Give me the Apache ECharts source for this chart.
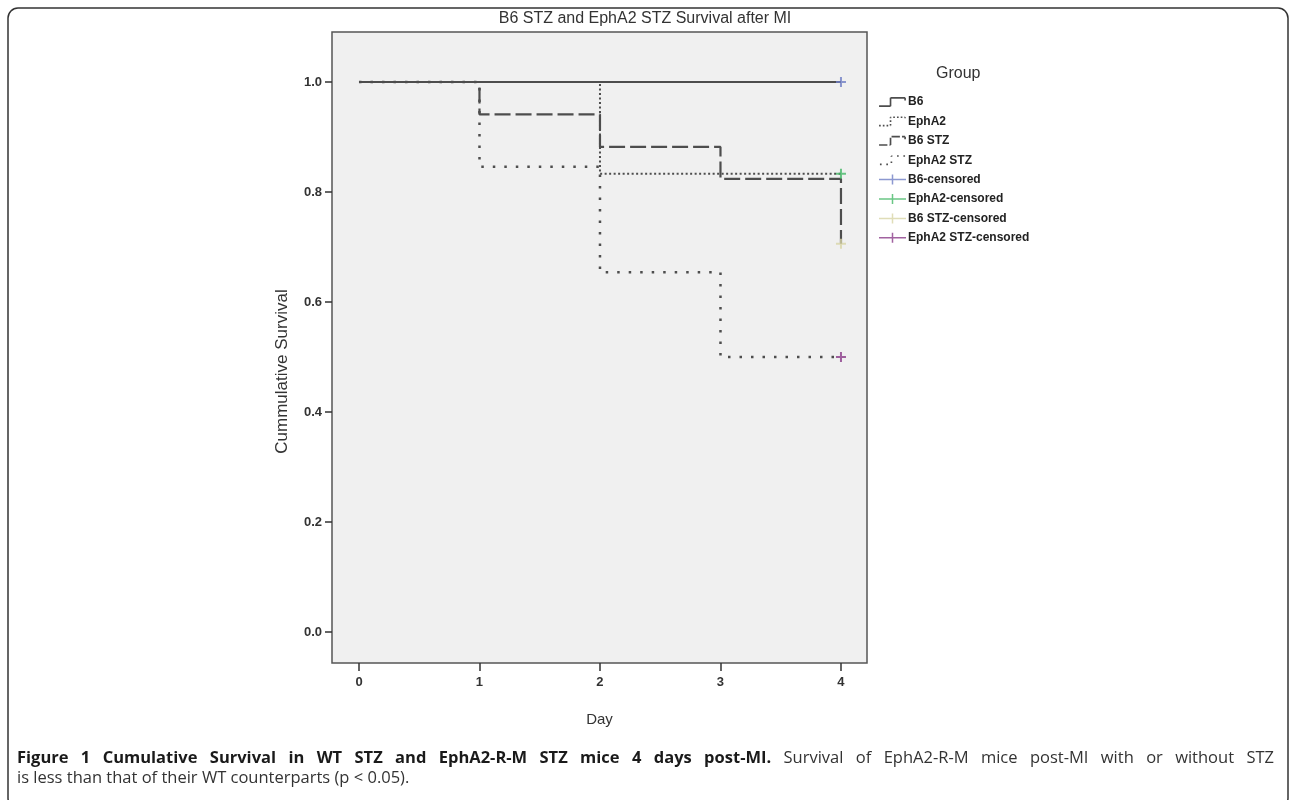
<!DOCTYPE html>
<html>
<head>
<meta charset="utf-8">
<script src="https://cdn.jsdelivr.net/npm/echarts@6/dist/echarts.min.js"></script>
<style>
html,body{margin:0;padding:0;background:#fff;}
#chart{width:1290px;height:800px;}
</style>
</head>
<body>
<div id="chart"></div>
<script>
// ---- data ----
const days = [0, 1, 2, 3, 4];
const b6 = [1, 1, 1, 1, 1];
const epha2 = [1, 1, 0.833, 0.833, 0.833];
const b6stz = [1, 0.941, 0.882, 0.824, 0.706];
const epha2stz = [1, 0.846, 0.654, 0.5, 0.5];
const censorDay = 4;
const xTicks = [0, 1, 2, 3, 4];
const yTicks = [0, 0.2, 0.4, 0.6, 0.8, 1.0];
const groupNames = ['B6', 'EphA2', 'B6 STZ', 'EphA2 STZ'];
const censorNames = ['B6-censored', 'EphA2-censored', 'B6 STZ-censored', 'EphA2 STZ-censored'];
const chartTitle = 'B6 STZ and EphA2 STZ Survival after MI';
const xName = 'Day';
const yName = 'Cummulative Survival';
const legendTitle = 'Group';
const captionBold = 'Figure 1 Cumulative Survival in WT STZ and EphA2-R-M STZ mice 4 days post-MI.';
const captionRest1 = 'Survival of EphA2-R-M mice post-MI with or without STZ';
const captionRest2 = 'is less than that of their WT counterparts (p < 0.05).';

// ---- helpers (styling only) ----
function pairs(vals) { return days.map((d, i) => [d, vals[i]]); }
function dashedPath(points, dash, gap, w) {
  let p = 'path://';
  let on = true, remain = dash;
  for (let s = 0; s < points.length - 1; s++) {
    const [x0, y0] = points[s], [x1, y1] = points[s + 1];
    const horiz = y0 === y1;
    const L = Math.abs(horiz ? x1 - x0 : y1 - y0);
    const dir = horiz ? Math.sign(x1 - x0) : Math.sign(y1 - y0);
    let t = 0;
    while (t < L - 1e-6) {
      const step = Math.min(remain, L - t);
      if (on) {
        const a = t, b = t + step;
        if (horiz) {
          const xa = Math.min(x0 + dir * a, x0 + dir * b);
          p += `M${xa},${y0 - w / 2}h${step}v${w}h${-step}z `;
        } else {
          const ya = Math.min(y0 + dir * a, y0 + dir * b);
          p += `M${x0 - w / 2},${ya}h${w}v${step}h${-w}z `;
        }
      }
      t += step;
      remain -= step;
      if (remain <= 1e-6) { on = !on; remain = on ? dash : gap; if (remain <= 0) { on = true; remain = dash; } }
    }
  }
  return p;
}
const stepPts = [[0, 9], [11, 9], [11, 1], [25, 1], [25, 3.5]];
const icons = [
  dashedPath(stepPts, 1000, 0, 1.6),
  dashedPath(stepPts, 1.6, 2, 1.6),
  dashedPath(stepPts, 8, 2, 1.6),
  dashedPath(stepPts, 1.6, 4.5, 1.6)
];
const crossIcon = 'path://M0,4.25h27v1.5h-27z M12.75,0h1.5v10h-1.5z';
const plusSymbol = 'path://M4,0h2v10h-2z M0,4h10v2h-10z';

const lineColor = '#4d4d4d';
const dashStyles = ['solid', [2, 2.5], [16, 5], [2.5, 9]];
const lineWidths = [2, 2, 2.2, 2.5];
const censorColors = ['#6f7ec4', '#45b866', '#d8d5a6', '#8a3b88'];
const series = [];
[b6, epha2, b6stz, epha2stz].forEach((vals, i) => {
  series.push({
    name: groupNames[i], type: 'line', step: 'end', data: pairs(vals),
    showSymbol: false, symbol: 'none', z: i === 0 ? 5 : 3,
    itemStyle: { color: lineColor },
    lineStyle: { color: lineColor, width: lineWidths[i], type: dashStyles[i] },
    animation: false
  });
});
[b6, epha2, b6stz, epha2stz].forEach((vals, i) => {
  series.push({
    name: censorNames[i], type: 'scatter', data: [[censorDay, vals[days.indexOf(censorDay)]]],
    symbol: plusSymbol, symbolSize: 10, z: 6,
    itemStyle: { color: censorColors[i] }, animation: false
  });
});

// ---- justified caption (layout only) ----
const capSize = 16.5;
const boldFont = `bold ${capSize}px "Open Sans"`;
const regFont = `${capSize}px "Open Sans"`;
const mctx = document.createElement('canvas').getContext('2d');
function textW(t, f) { mctx.font = f; return mctx.measureText(t).width; }
const capLeft = 17, capRight = 1274, capY1 = 758, capY2 = 778;
const words = captionBold.split(' ').map(w => ({ w, f: boldFont, c: '#1a1a1a' }))
  .concat(captionRest1.split(' ').map(w => ({ w, f: regFont, c: '#333' })));
let natural = 0;
words.forEach(o => { o.width = textW(o.w, o.f); natural += o.width; });
const gapW = (capRight - capLeft - natural) / (words.length - 1);
const captionGraphics = [];
let cx = capLeft;
words.forEach(o => {
  captionGraphics.push({ type: 'text', x: cx, y: capY1, silent: true,
    style: { text: o.w, font: o.f, fill: o.c, textVerticalAlign: 'middle' } });
  cx += o.width + gapW;
});
captionGraphics.push({ type: 'text', x: capLeft, y: capY2, silent: true,
  style: { text: captionRest2, font: regFont, fill: '#333', textVerticalAlign: 'middle' } });

const chart = echarts.init(document.getElementById('chart'), null, { renderer: 'canvas' });
chart.setOption({
  animation: false,
  backgroundColor: '#ffffff',
  graphic: [{
    type: 'rect', silent: true, z: -10,
    shape: { x: 8, y: 8, width: 1280, height: 800, r: 10 },
    style: { fill: 'none', stroke: '#333', lineWidth: 1.5 }
  }].concat(captionGraphics),
  title: [
    { text: chartTitle, left: 640, top: 6, textAlign: 'center',
      textStyle: { fontFamily: 'Liberation Sans', fontSize: 16, fontWeight: 'normal', color: '#333' } },
    { text: legendTitle, left: 931, top: 61,
      textStyle: { fontFamily: 'Liberation Sans', fontSize: 16, fontWeight: 'normal', color: '#333' } }
  ],
  legend: {
    orient: 'vertical', left: 874, top: 90,
    itemWidth: 27, itemHeight: 10, itemGap: 5.4,
    itemStyle: { borderWidth: 0 },
    textStyle: { fontFamily: 'Liberation Sans', fontSize: 12, fontWeight: 'bold', color: '#222', lineHeight: 14, padding: [0, 0, 0, -3] },
    data: groupNames.map((n, i) => ({ name: n, icon: icons[i] }))
      .concat(censorNames.map(n => ({ name: n, icon: crossIcon })))
  },
  grid: {
    left: 332, top: 32, width: 535, height: 631,
    show: true, backgroundColor: '#f0f0f0', borderColor: '#555', borderWidth: 1.5
  },
  xAxis: {
    type: 'value', min: -0.224, max: 4.216,
    name: xName, nameLocation: 'middle', nameGap: 49,
    nameTextStyle: { fontFamily: 'Liberation Sans', fontSize: 15, color: '#333' },
    axisLine: { show: false, onZero: false },
    splitLine: { show: false },
    axisTick: { show: true, inside: false, length: 8, customValues: xTicks, lineStyle: { color: '#333', width: 1.5 } },
    axisLabel: { customValues: xTicks, margin: 13, fontFamily: 'Liberation Sans', fontSize: 13, fontWeight: 'bold', color: '#333' }
  },
  yAxis: {
    type: 'value', min: -0.0564, max: 1.0909,
    name: yName, nameLocation: 'middle', nameGap: 41,
    nameTextStyle: { fontFamily: 'Liberation Sans', fontSize: 17, color: '#333', padding: [0, 48, 0, 0] },
    axisLine: { show: false, onZero: false },
    splitLine: { show: false },
    axisTick: { show: true, inside: false, length: 7, customValues: yTicks, lineStyle: { color: '#333', width: 1.5 } },
    axisLabel: { customValues: yTicks, margin: 10, fontFamily: 'Liberation Sans', fontSize: 13, fontWeight: 'bold', color: '#333',
      formatter: v => v.toFixed(1) }
  },
  series: series
});
</script>
</body>
</html>
